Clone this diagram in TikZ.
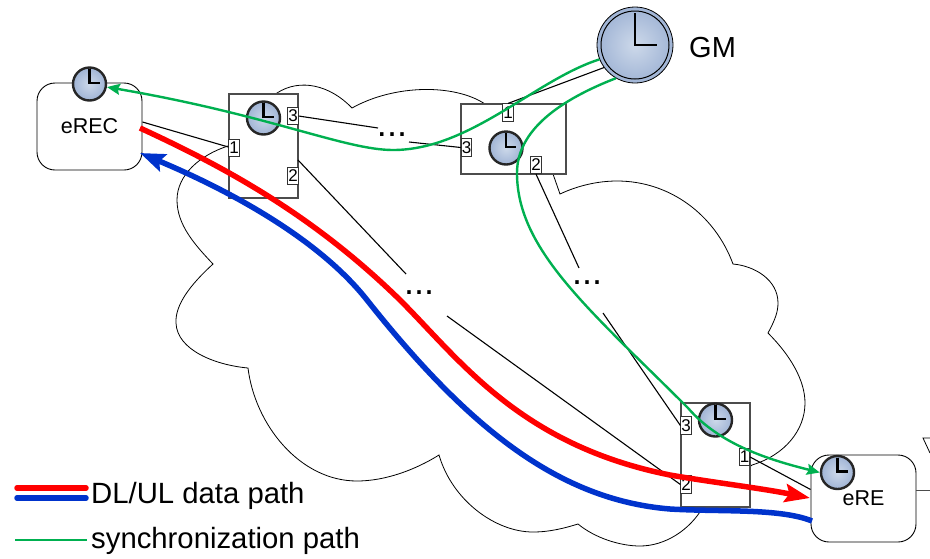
\documentclass[tikz,border=0pt]{standalone}
\usepackage{fontspec}
\setmainfont{Liberation Sans}
\usetikzlibrary{arrows.meta,positioning}
\definecolor{syncgreen}{RGB}{0,176,80}
\definecolor{datablue}{RGB}{0,51,204}
\definecolor{clockin}{RGB}{205,217,234}
\definecolor{clockout}{RGB}{160,180,213}
\tikzset{
  dev/.style={draw,rounded corners=18pt,fill=white,line width=.9pt,minimum width=105pt,minimum height=87pt,inner sep=0pt,font=\fontsize{21.5}{24}\selectfont},
  sw/.style={draw=black!70,fill=white,line width=1.2pt,inner sep=0pt},
  port/.style={draw=black!80,fill=white,line width=.7pt,minimum width=10.5pt,minimum height=17.5pt,inner sep=0pt,font=\fontsize{17}{18}\selectfont},
  clock/.style={circle,draw=black!85,line width=2.4pt,inner color=clockin,outer color=clockout,minimum size=33pt,inner sep=0pt},
  hand/.style={line width=2.2pt},
  link/.style={line width=1.1pt},
  gapdots/.style={inner sep=0pt,font=\fontsize{36}{36}\selectfont},
  legend/.style={inner sep=0pt,anchor=west,font=\fontsize{29.3}{32}\selectfont},
  sync/.style={syncgreen,line width=2.4pt},
  dl/.style={red,line width=5.5pt},
  ul/.style={datablue,line width=5.5pt},
  bigtip/.style={-{Stealth[length=25pt,width=18pt,inset=4pt]}},
  smalltip/.style={-{Stealth[length=13pt,width=11pt,inset=2pt]}}
}

\begin{document}
\begin{tikzpicture}[x=1pt,y=-1pt,on grid]
        \useasboundingbox (0,0) rectangle (930,558);
        % cloud
        \draw[line width=.8pt]
        (485,104) .. controls (455,84) and (395,84) .. (352,108)
        .. controls (330,85) and (300,78) .. (277,93)
        -- (228,146) .. controls (200,155) and (177,175) .. (177,200)
        .. controls (177,225) and (195,245) .. (213,264)
        .. controls (190,285) and (175,305) .. (176,323)
        .. controls (177,350) and (215,365) .. (248,368)
        .. controls (255,425) and (300,481) .. (357,481)
        .. controls (385,481) and (415,470) .. (439,455)
        .. controls (452,500) and (495,532) .. (533,532)
        .. controls (550,532) and (565,528) .. (578,524)
        .. controls (595,538) and (620,546) .. (640,546)
        .. controls (665,546) and (690,530) .. (703,507)
        -- (752,465) .. controls (785,455) and (805,430) .. (805,403)
        .. controls (805,380) and (790,355) .. (768,333)
        .. controls (775,320) and (778,312) .. (778,303)
        .. controls (778,280) and (755,266) .. (733,264)
        .. controls (715,215) and (670,181) .. (617,181)
        .. controls (597,181) and (577,186) .. (560,194)
        -- (553,174) -- cycle;
        % boxes
        \node(eREC)[dev] at (89.5,126.5){eREC};
        \node(swA)[sw,minimum width=69pt,minimum height=104pt,below right=19.5pt and 174pt of eREC]{};
        \node(swB)[sw,minimum width=105pt,minimum height=70pt,above right=7pt and 250pt of swA]{};
        \node(swC)[sw,minimum width=69pt,minimum height=104pt,below right=316pt and 202pt of swB]{};
        \node(eRE)[dev,below right=43.5pt and 148pt of swC]{eRE};
        \node(aOne)[port,below left=2pt and 29.5pt of swA]{1};
        \node(aTwo)[port,below right=30pt and 29.5pt of swA]{2};
        \node(aThree)[port,above right=30pt and 29.5pt of swA]{3};
        \node(bOne)[port,above left=26.5pt and 5.5pt of swB]{1};
        \node(bTwo)[port,below right=26pt and 22.5pt of swB]{2};
        \node(bThree)[port,below left=8.5pt and 47pt of swB]{3};
        \node(cOne)[port,below right=2pt and 29pt of swC]{1};
        \node(cTwo)[port,below left=29.5pt and 29.5pt of swC]{2};
        \node(cThree)[port,above left=29.5pt and 29.5pt of swC]{3};
        % clocks
        \node(ckREC)[clock,above=42.5pt of eREC]{};
        \node(ckA)[clock,above=28pt of swA]{};
        \node(ckB)[clock,below left=9pt and 7.5pt of swB]{};
        \node(ckC)[clock,above=35pt of swC]{};
        \node(ckRE)[clock,above left=26pt and 26pt of eRE]{};
        \foreach \c in {ckREC,ckA,ckB,ckC,ckRE}
          \draw[hand] ([yshift=15pt]\c.center) |- ([xshift=10pt,yshift=1pt]\c.center);
        \node(GM)[circle,draw,line width=.8pt,inner color=clockin,outer color=clockout,minimum size=76pt,inner sep=0pt,above right=94pt and 121.5pt of swB]{};
        \node(GMin)[circle,draw,line width=1pt,minimum size=68pt,inner sep=0pt] at (GM.center){};
        \draw[hand] ([yshift=32pt]GM.center) |- ([xshift=22pt]GM.center);
        \node(GMtext)[inner sep=0pt,anchor=west,font=\fontsize{29}{32}\selectfont] at (689,48){GM};
        % links
        \node(dotsAB)[gapdots] at (392,135){...};
        \node(dotsAC)[gapdots] at (419,293){...};
        \node(dotsBC)[gapdots] at (587,283){...};
        \coordinate(abLeft) at (378,128);
        \coordinate(abRight) at (409,142);
        \coordinate(acStart) at (298,160);
        \coordinate(acLeft) at (406,274);
        \coordinate(acRight) at (447,316);
        \coordinate(bcLeft) at (579,268);
        \coordinate(bcRight) at (603,313);
        \coordinate(rightEnd) at (930,490);
        \draw[link] ([yshift=4.5pt]eREC.east) -- (aOne.170);
        \draw[link] (aThree.east) -- (abLeft);
        \draw[link] (abRight) -- (bThree.west);
        \draw[link] (acStart) -- (acLeft);
        \draw[link] (acRight) -- (cTwo.west);
        \draw[link] (GM.216) -- (bOne.north);
        \draw[link] (bTwo.south) -- (bcLeft);
        \draw[link] (bcRight) -- (cThree.west);
        \draw[link] (cOne.east) -- ([yshift=9pt]eRE.west);
        \draw[line width=.8pt,black!70] ([yshift=8.5pt]eRE.east) -- (rightEnd);
        \draw[line width=.8pt] (930,438) -- (923,438) -- (930,453);
        % paths
        \coordinate(redStart) at (140,128);
        \coordinate(redEnd) at (810,498);
        \coordinate(blueStart) at (812,521);
        \coordinate(blueEnd) at (140,153);
        \draw[dl,bigtip] (redStart) .. controls (220,165) and (310,212) .. (400,300)
        .. controls (460,360) and (520,445) .. (670,475)
        .. controls (710,482) and (760,488) .. (redEnd);
        \draw[ul,bigtip] (blueStart) .. controls (780,508) and (720,512) .. (670,509)
        .. controls (560,500) and (470,430) .. (367,300)
        .. controls (322,243) and (240,195) .. (blueEnd);
        \draw[sync,smalltip] (GM.202) .. controls (535,80) and (470,150) .. (393,150)
        .. controls (345,150) and (270,115) .. (ckREC.-10);
        \draw[sync,smalltip] (GM.240) .. controls (560,100) and (517,130) .. (517,173)
        .. controls (517,250) and (590,310) .. (688,408)
        .. controls (720,445) and (770,460) .. (ckRE.west);
        % legend
        \coordinate(legA) at (17,488);
        \coordinate(legB) at (86,488);
        \coordinate(legC) at (17,498);
        \coordinate(legD) at (86,498);
        \coordinate(legE) at (15,540);
        \coordinate(legF) at (87,540);
        \draw[dl,line cap=round] (legA) -- (legB);
        \draw[ul,line cap=round] (legC) -- (legD);
        \draw[sync] (legE) -- (legF);
        \node(legData)[legend] at (91,496){DL/UL data path};
        \node(legSync)[legend] at (91,541){synchronization path};
      \end{tikzpicture}
\end{document}
